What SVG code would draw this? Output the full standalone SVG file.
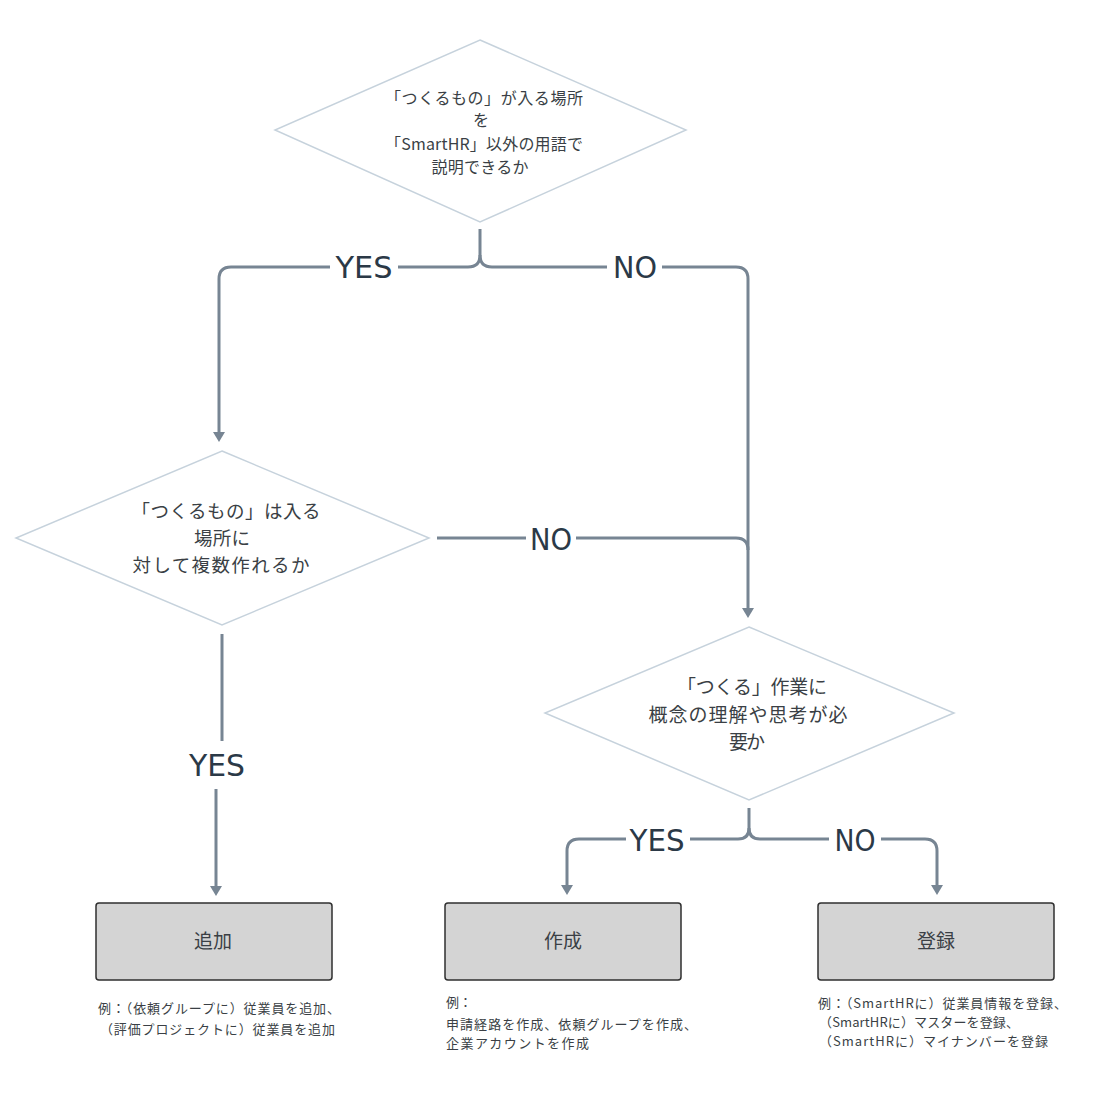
<svg xmlns="http://www.w3.org/2000/svg" width="1118" height="1100" viewBox="0 0 1118 1100">
<style>
.dia{fill:#ffffff;stroke:#c6d2dc;stroke-width:1.5}
.box{fill:#d4d4d4;stroke:#2f2f2f;stroke-width:1.5}
.conn{fill:none;stroke:#778593;stroke-width:3}
.jt{font-family:"Noto Sans CJK JP","Noto Sans",sans-serif;fill:#3a3f45;text-anchor:middle}
.cap{font-family:"Noto Sans CJK JP","Noto Sans",sans-serif;fill:#3a3f45;font-size:13px}
.lbl{font-family:"DejaVu Sans Condensed","Liberation Sans Narrow","Noto Sans",sans-serif;fill:#2b3947;font-size:31px;text-anchor:middle}
</style>
<defs>
<marker id="arr" markerUnits="userSpaceOnUse" markerWidth="10" markerHeight="12" refX="4" refY="6" orient="auto">
<path d="M0,0 L10,6 L0,12 z" fill="#778593"/>
</marker>
</defs>
<rect width="1118" height="1100" fill="#ffffff"/>
<g id="connectors">
<path class="conn" d="M480,229 V255 Q480,267 468,267 H398"/>
<path class="conn" d="M330,267 H231 Q219,267 219,279 V436" marker-end="url(#arr)"/>
<path class="conn" d="M480,255 Q480,267 492,267 H607"/>
<path class="conn" d="M662,267 H736 Q748,267 748,279 V612" marker-end="url(#arr)"/>
<path class="conn" d="M437,538 H526"/>
<path class="conn" d="M576,538 H736 Q748,538 748,550"/>
<path class="conn" d="M222,634 V741"/>
<path class="conn" d="M216,789 V890" marker-end="url(#arr)"/>
<path class="conn" d="M749,808 V828 Q749,839 738,839 H690"/>
<path class="conn" d="M626,839 H579 Q567,839 567,851 V889" marker-end="url(#arr)"/>
<path class="conn" d="M749,828 Q749,839 760,839 H829"/>
<path class="conn" d="M881,839 H925 Q937,839 937,851 V889" marker-end="url(#arr)"/>
<text class="lbl" x="364" y="278" textLength="57" lengthAdjust="spacingAndGlyphs">YES</text>
<text class="lbl" x="635" y="278" textLength="44" lengthAdjust="spacingAndGlyphs">NO</text>
<text class="lbl" x="551" y="550" textLength="42" lengthAdjust="spacingAndGlyphs">NO</text>
<text class="lbl" x="217" y="776" textLength="56" lengthAdjust="spacingAndGlyphs">YES</text>
<text class="lbl" x="657" y="851" textLength="55" lengthAdjust="spacingAndGlyphs">YES</text>
<text class="lbl" x="855" y="851" textLength="41" lengthAdjust="spacingAndGlyphs">NO</text>
</g>
<g id="q1">
<polygon class="dia" points="480,40 686,130 480,222 275,130"/>
<text class="jt" font-size="16" x="484" y="104" textLength="198" lengthAdjust="spacing">「つくるもの」が入る場所</text>
<text class="jt" font-size="16" x="481" y="126">を</text>
<text class="jt" font-size="16" x="484" y="150" textLength="198" lengthAdjust="spacing">「SmartHR」以外の用語で</text>
<text class="jt" font-size="16" x="480" y="173" textLength="97" lengthAdjust="spacing">説明できるか</text>
</g>
<g id="q2">
<polygon class="dia" points="222,451 429,538 222,625 16,538"/>
<text class="jt" font-size="18.5" x="226" y="518" textLength="189" lengthAdjust="spacing">「つくるもの」は入る</text>
<text class="jt" font-size="18.5" x="222" y="545" textLength="56" lengthAdjust="spacing">場所に</text>
<text class="jt" font-size="18.5" x="221" y="572" textLength="177" lengthAdjust="spacing">対して複数作れるか</text>
</g>
<g id="q3">
<polygon class="dia" points="749,627 954,713 749,800 545,713"/>
<text class="jt" font-size="19" x="752" y="694" textLength="150" lengthAdjust="spacing">「つくる」作業に</text>
<text class="jt" font-size="19" x="748" y="722" textLength="199" lengthAdjust="spacing">概念の理解や思考が必</text>
<text class="jt" font-size="19" x="747" y="749" textLength="36" lengthAdjust="spacing">要か</text>
</g>
<g id="add">
<rect class="box" x="96" y="903" width="236" height="77" rx="3"/>
<text class="jt" font-size="19" x="213" y="948">追加</text>
<text class="cap" x="98" y="1013" textLength="242" lengthAdjust="spacing">例：（依頼グループに）従業員を追加、</text>
<text class="cap" x="100" y="1034" textLength="235" lengthAdjust="spacing">（評価プロジェクトに）従業員を追加</text>
</g>
<g id="create">
<rect class="box" x="445" y="903" width="236" height="77" rx="3"/>
<text class="jt" font-size="19" x="563" y="948">作成</text>
<text class="cap" x="446" y="1007">例：</text>
<text class="cap" x="446" y="1029" textLength="251" lengthAdjust="spacing">申請経路を作成、依頼グループを作成、</text>
<text class="cap" x="446" y="1048" textLength="143" lengthAdjust="spacing">企業アカウントを作成</text>
</g>
<g id="register">
<rect class="box" x="818" y="903" width="236" height="77" rx="3"/>
<text class="jt" font-size="19" x="936" y="948">登録</text>
<text class="cap" x="818" y="1008" textLength="249" lengthAdjust="spacing">例：（SmartHRに）従業員情報を登録、</text>
<text class="cap" x="819" y="1027" textLength="200" lengthAdjust="spacing">（SmartHRに）マスターを登録、</text>
<text class="cap" x="819" y="1046" textLength="229" lengthAdjust="spacing">（SmartHRに）マイナンバーを登録</text>
</g>
</svg>
